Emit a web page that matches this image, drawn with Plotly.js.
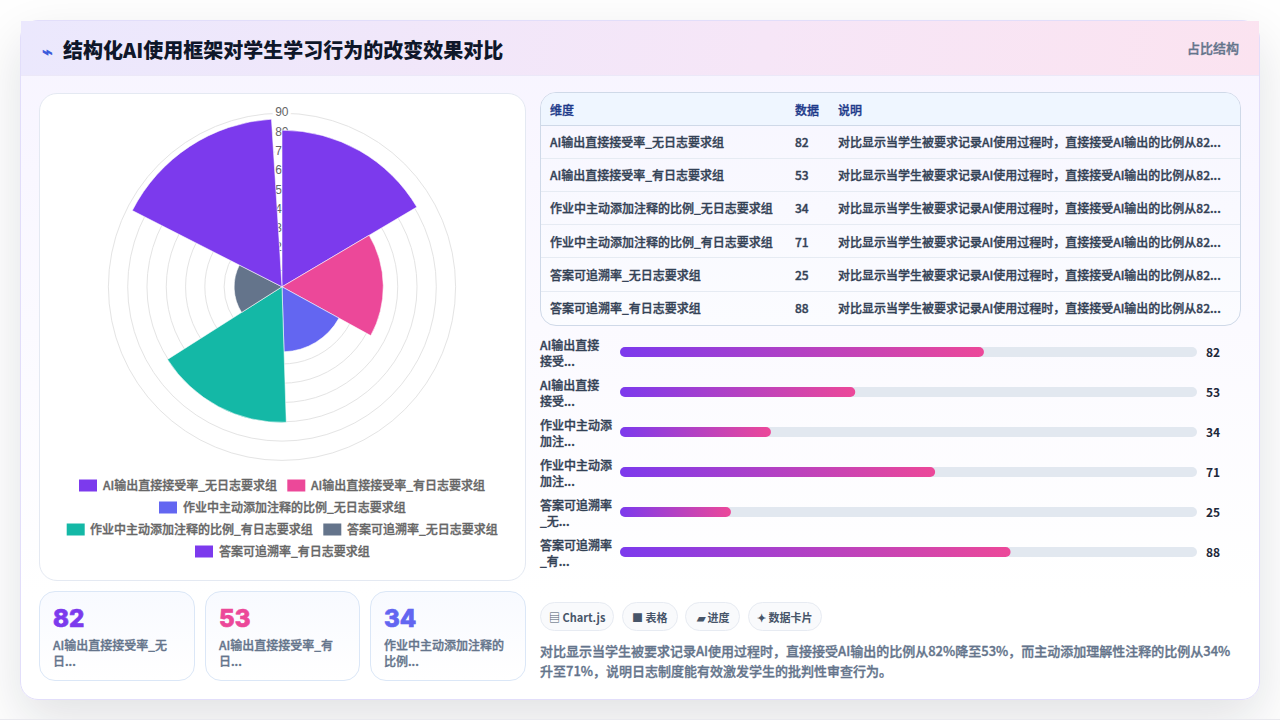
<!DOCTYPE html>
<html lang="zh">
<head>
<meta charset="utf-8">
<script src="https://cdn.plot.ly/plotly-3.0.1.min.js"></script>
<style>
html,body{margin:0;padding:0;width:1280px;height:721px;overflow:hidden;background:#fff;}
#page{position:absolute;left:0;top:0;width:1280px;height:720px;overflow:hidden;background:#fefefe;border-bottom:1px solid #e9e9ee;box-sizing:border-box;}
.box{position:absolute;box-sizing:border-box;}
#card{left:20px;top:20px;width:1240px;height:680px;border-radius:18px;border:1px solid #e2defa;
 background:linear-gradient(180deg,#f7f4ff 0%,#fbfaff 45%,#ffffff 85%);box-shadow:0 20px 50px rgba(15,23,42,.12);}
#head{left:21px;top:21px;width:1238px;height:55px;background:linear-gradient(100deg,#ebe8fd 0%,#f6e6f7 60%,#fbe3f0 100%);border-bottom:1px solid #ece8f8;}
#polarCard{left:39px;top:93px;width:487px;height:488px;border-radius:18px;background:#fff;border:1px solid #e4e9f2;}
.stat{top:591px;height:90px;border-radius:16px;border:1px solid #dbe7f7;background:linear-gradient(180deg,#f8faff,#ffffff);}
#tbl{left:540px;top:92px;width:701px;height:234px;border-radius:16px;border:1px solid #cfd9e8;overflow:hidden;background:linear-gradient(180deg,#f7f6ff,#fbfcff);}
#tblHead{position:absolute;left:0;top:0;width:100%;height:33px;background:#eff6ff;}
.chip{top:602px;height:29px;border-radius:15px;border:1px solid #e7ebf2;background:#f9fafc;}
#plot{position:absolute;left:0;top:0;width:1280px;height:721px;}
</style>
</head>
<body>
<div id="page">
 <div class="box" id="card"></div>
 <div class="box" id="head"></div>
 <div class="box" id="polarCard"></div>
 <div class="box stat" style="left:39px;width:156px"></div>
 <div class="box stat" style="left:205px;width:155px"></div>
 <div class="box stat" style="left:370px;width:156px"></div>
 <div class="box" id="tbl"><div id="tblHead"></div></div>
 <div class="box chip" style="left:540px;width:74px"></div>
 <div class="box chip" style="left:622px;width:56px"></div>
 <div class="box chip" style="left:685px;width:55px"></div>
 <div class="box chip" style="left:748px;width:74px"></div>
</div>
<div id="plot"></div>
<script>
// ---- data ----
var categories = ['AI输出直接接受率_无日志要求组','AI输出直接接受率_有日志要求组','作业中主动添加注释的比例_无日志要求组','作业中主动添加注释的比例_有日志要求组','答案可追溯率_无日志要求组','答案可追溯率_有日志要求组'];
var values = [82,53,34,71,25,88];
var sectorRadii = [81.2,52.5,33.7,70.3,24.8,87.1];
var sectorAngles = [29.7,89.1,148.5,207.9,267.3,326.7];
var sectorWidths = [59.4,59.4,59.4,59.4,59.4,59.4];
var sectorColors = ['#7c3aed','#ec4899','#6366f1','#14b8a6','#64748b','#7c3aed'];
var barScaleMax = [130,130,130,130,130,130];
var barLabels = ['AI输出直接<br>接受...','AI输出直接<br>接受...','作业中主动添<br>加注...','作业中主动添<br>加注...','答案可追溯率<br>_无...','答案可追溯率<br>_有...'];
var noteShort = '对比显示当学生被要求记录AI使用过程时，直接接受AI输出的比例从82...';
var tableHeader = ['维度','数据','说明'];
var statValues = [82,53,34];
var statColors = ['#7c3aed','#ec4899','#6366f1'];
var statLine1 = ['AI输出直接接受率_无','AI输出直接接受率_有','作业中主动添加注释的'];
var statLine2 = ['日...','日...','比例...'];
var chipTexts = ['▤ Chart.js','■ 表格','▰ 进度','✦ 数据卡片'];
var paragraph = ['对比显示当学生被要求记录AI使用过程时，直接接受AI输出的比例从82%降至53%，而主动添加理解性注释的比例从34%','升至71%，说明日志制度能有效激发学生的批判性审查行为。'];
var titleText = '结构化AI使用框架对学生学习行为的改变效果对比';
var badgeText = '占比结构';

// ---- helpers ----
var FONT = '"Noto Sans CJK SC","Noto Sans",sans-serif';
function X(p){return p/1280;}
function Y(p){return 1-p/721;}
function note(x,y,text,size,color,weight,anchor,fam){
  return {xref:'paper',yref:'paper',x:X(x),y:Y(y),text:text,showarrow:false,xanchor:anchor||'left',yanchor:'middle',align:'left',
    font:{family:fam||FONT,size:size,color:color,weight:weight||500},borderpad:0};
}
var rowsIdx = values.map(function(_,i){return i;});

var traces = [
 {type:'barpolar',r:sectorRadii,theta:sectorAngles,width:sectorWidths,subplot:'polar',
  marker:{color:sectorColors,line:{color:'rgba(255,255,255,0.55)',width:1}},hoverinfo:'skip',showlegend:false},
 {type:'bar',orientation:'h',x:barScaleMax,y:rowsIdx,width:0.25,xaxis:'x',yaxis:'y',marker:{color:'#e2e8f0'},hoverinfo:'skip',showlegend:false},
 {type:'bar',orientation:'h',x:values,y:rowsIdx,width:0.25,xaxis:'x',yaxis:'y',marker:{color:'#7c3aed'},hoverinfo:'skip',showlegend:false},
 {type:'table',domain:{x:[X(542),X(1240)],y:[Y(332),Y(98)]},columnwidth:[245,43,410],
  header:{values:tableHeader,height:32,align:'left',fill:{color:'rgba(0,0,0,0)'},line:{width:0,color:'rgba(0,0,0,0)'},font:{family:FONT,size:12,color:'#1e3a8a',weight:500}},
  cells:{values:[categories,values,categories.map(function(){return noteShort;})],height:33.17,align:'left',fill:{color:'rgba(0,0,0,0)'},line:{width:0,color:'rgba(0,0,0,0)'},font:{family:FONT,size:12,color:'#334155',weight:500}}}
];

var annotations = [];
annotations.push(note(40.5,50,'⌁',18,'#3b5bdb',700));
annotations.push(note(62,49.5,titleText,20,'#0f172a',900));
annotations.push(note(1240,48,badgeText,13,'#64748b',500,'right'));
rowsIdx.forEach(function(i){
  annotations.push({xref:'paper',yref:'y',x:X(538.5),y:i,text:barLabels[i],showarrow:false,xanchor:'left',yanchor:'middle',align:'left',borderpad:0,font:{family:FONT,size:12,color:'#334155',weight:500}});
  annotations.push({xref:'paper',yref:'y',x:X(1205),y:i-0.01,text:String(values[i]),showarrow:false,xanchor:'left',yanchor:'middle',align:'left',borderpad:0,font:{family:FONT,size:12,color:'#1e293b',weight:700}});
});
var statX=[52,218,383];
statValues.forEach(function(v,i){
  var a=note(statX[i],618,String(v),24,statColors[i],800,'left','Inter,"Noto Sans CJK SC",sans-serif');
  a.name='statNumber';
  annotations.push(a);
  annotations.push(note(statX[i],644,statLine1[i],12,'#64748b',500));
  annotations.push(note(statX[i],660,statLine2[i],12,'#64748b',500));
});
var chipX=[577,650,712.5,785];
chipTexts.forEach(function(t,i){annotations.push(note(chipX[i],617,t,11,'#475569',700,'center'));});
annotations.push(note(539,650,paragraph[0],13,'#64748b',500));
annotations.push(note(539,670.5,paragraph[1],13,'#64748b',500));

var legendRows=[[79,485.5,0],[287.3,485.5,1],[159,507.5,2],[66.7,529.5,3],[323.3,529.5,4],[195,551.5,5]];
var shapes=[];
legendRows.forEach(function(r){
  shapes.push({type:'rect',xref:'paper',yref:'paper',x0:X(r[0]),x1:X(r[0]+18),y0:Y(r[1]-6),y1:Y(r[1]+6),fillcolor:sectorColors[r[2]],line:{width:0},layer:'above'});
  annotations.push(note(r[0]+22.5,r[1]-1.5,categories[r[2]],12,'#666666',500));
});
[125.5,158.5,191.5,224.5,257.5,291.5].forEach(function(y,i){
  shapes.push({type:'line',xref:'paper',yref:'paper',x0:X(541),x1:X(1240),y0:Y(y),y1:Y(y),line:{color:i===0?'#cfd9e8':'#e6ebf3',width:1},layer:'above'});
});

var layout = {
  width:1280,height:721,autosize:false,margin:{l:0,r:0,t:0,b:0,pad:0},
  paper_bgcolor:'rgba(0,0,0,0)',plot_bgcolor:'rgba(0,0,0,0)',showlegend:false,
  font:{family:FONT},
  barmode:'overlay',
  xaxis:{domain:[X(620),X(1197)],range:[0,130],visible:false,fixedrange:true},
  yaxis:{domain:[Y(572),Y(332)],range:[5.5,-0.5],visible:false,fixedrange:true},
  polar:{
    domain:{x:[X(108.4),X(455.6)],y:[Y(460.4),Y(113.2)]},
    bgcolor:'rgba(0,0,0,0)',
    sector:[0,360],
    angularaxis:{direction:'clockwise',rotation:90,visible:true,showgrid:false,showline:true,linecolor:'#e4e4e4',linewidth:1,ticks:'',showticklabels:false,thetaunit:'degrees',layer:'below traces'},
    radialaxis:{range:[0,90],angle:90,dtick:10,showline:false,ticks:'',gridcolor:'#e4e4e4',gridwidth:1,layer:'below traces',
      tickfont:{family:'"Liberation Sans",Arial,sans-serif',size:12,color:'#666666'},tickangle:90,showticklabels:true}
  },
  shapes:shapes,annotations:annotations
};

Plotly.newPlot('plot',traces,layout,{staticPlot:true,displayModeBar:false}).then(function(gd){
  var svg=gd.querySelector('.main-svg');
  var NS='http://www.w3.org/2000/svg';
  var defs=svg.querySelector('defs')||svg.insertBefore(document.createElementNS(NS,'defs'),svg.firstChild);
  var g=document.createElementNS(NS,'linearGradient');g.setAttribute('id','barGrad');
  [['0%','#7c3aed'],['100%','#ec4899']].forEach(function(s){var st=document.createElementNS(NS,'stop');st.setAttribute('offset',s[0]);st.setAttribute('stop-color',s[1]);g.appendChild(st);});
  defs.appendChild(g);
  gd.querySelectorAll('.cartesianlayer .barlayer .trace').forEach(function(tr,ti){
    tr.querySelectorAll('.point path').forEach(function(p){
      var b=p.getBBox(),r=b.height/2;
      p.setAttribute('d','M'+(b.x+r)+','+b.y+'H'+(b.x+b.width-r)+'A'+r+','+r+' 0 0 1 '+(b.x+b.width-r)+','+(b.y+b.height)+'H'+(b.x+r)+'A'+r+','+r+' 0 0 1 '+(b.x+r)+','+b.y+'Z');
      if(ti===1){p.style.fill='url(#barGrad)';}
    });
  });
  // radial tick labels: centred on the vertical axis line, ring gap behind them
  var cx=282, cy=286.8, k=173.6/90;
  gd.querySelectorAll('.radial-axis text').forEach(function(t){
    var v=parseFloat(t.textContent);
    if(!v){t.style.display='none';return;}
    var rc=t.getBoundingClientRect();
    var dx=cx-(rc.left+rc.right)/2;
    var dy=(cy-v*k-0.8)-(rc.top+rc.bottom)/2;
    var m=t.parentNode.getScreenCTM().inverse();
    var lx=m.a*dx+m.c*dy, ly=m.b*dx+m.d*dy;
    var old=t.getAttribute('transform')||'';
    t.setAttribute('transform','translate('+lx+','+ly+') '+old);
    t.style.paintOrder='stroke';t.style.stroke='#fff';t.style.strokeWidth='6px';
  });
  // regular-metric text drawn semi-bold, as in the reference
  gd.querySelectorAll('.annotation-text, .cell-text').forEach(function(t){
    var cs=getComputedStyle(t),w=parseInt(cs.fontWeight,10);
    if(w<700){t.style.stroke=cs.fill;t.style.strokeWidth='0.35px';}
    else if(w===800){t.style.stroke=cs.fill;t.style.strokeWidth='0.7px';}
  });
});
</script>
</body>
</html>
